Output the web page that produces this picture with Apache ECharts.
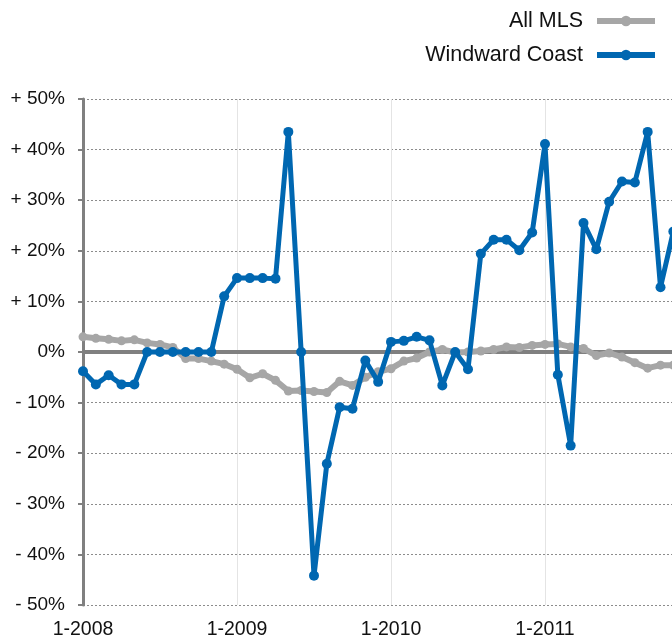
<!DOCTYPE html>
<html>
<head>
<meta charset="utf-8">
<script src="https://cdn.jsdelivr.net/npm/echarts@6/dist/echarts.min.js"></script>
<style>
html,body{margin:0;padding:0;background:#fff;}
#chart{width:672px;height:637px;}
</style>
</head>
<body>
<div id="chart"></div>
<script>
// Months Jan 2008 .. Jan 2012 (axis categories)
const years = [2008, 2009, 2010, 2011, 2012];
const categories = [];
years.forEach(function (y) {
  for (let m = 1; m <= 12; m++) {
    if (y === 2012 && m > 1) break;
    categories.push(m + '-' + y);
  }
});

const seriesNames = ['All MLS', 'Windward Coast'];

// All MLS, % change, Jan 2008 .. Nov 2011
const allMLS = [
  3.0, 2.7, 2.5, 2.2, 2.4, 1.8, 1.5, 0.9, -1.3, -1.3, -1.8, -2.4,
  -3.4, -5.1, -4.3, -5.6, -7.7, -7.6, -7.8, -8.0, -5.8, -6.6, -5.0, -3.9,
  -3.3, -1.8, -1.2, 0.0, 0.5, -0.1, 0.0, 0.2, 0.5, 1.0, 0.9, 1.3,
  1.5, 1.6, 1.0, 0.7, -0.7, -0.2, -1.0, -2.1, -3.2, -2.6, -2.6
];

// Windward Coast, % change, Jan 2008 .. Nov 2011
const windward = [
  -3.8, -6.4, -4.6, -6.4, -6.4, 0, 0, 0, 0, 0, 0, 11.0,
  14.6, 14.6, 14.6, 14.5, 43.5, 0, -44.2, -22.1, -10.9, -11.2, -1.7, -5.9,
  2.0, 2.2, 3.0, 2.3, -6.6, 0.0, -3.4, 19.4, 22.2, 22.2, 20.1, 23.6,
  41.1, -4.5, -18.5, 25.5, 20.3, 29.7, 33.7, 33.5, 43.5, 12.8, 23.8
];

const yTicks = [-50, -40, -30, -20, -10, 0, 10, 20, 30, 40, 50];

const FONT = '"Liberation Sans", Arial, Helvetica, sans-serif';
const BLUE = '#0067b1';
const GRAY = '#a6a6a6';

const chart = echarts.init(document.getElementById('chart'), null, {renderer: 'canvas'});
chart.setOption({
  animation: false,
  backgroundColor: '#ffffff',
  textStyle: {fontFamily: FONT},
  legend: {
    orient: 'vertical',
    right: 9,
    top: 5,
    align: 'right',
    itemWidth: 58,
    itemHeight: 13,
    itemGap: 12,
    lineStyle: {width: 6},
    textStyle: {fontFamily: FONT, fontSize: 21.5, color: '#111', padding: [0, 9, 0, 0]},
    data: seriesNames
  },
  grid: {left: 83, top: 99, width: 616, height: 506, containLabel: false, outerBoundsMode: 'none'},
  xAxis: {
    type: 'category',
    data: categories,
    boundaryGap: false,
    axisLine: {show: false},
    axisTick: {show: false},
    axisLabel: {
      interval: function (i) { return i % 12 === 0 && i < 48; },
      margin: 15,
      fontFamily: FONT,
      fontSize: 19.5,
      color: '#111'
    },
    splitLine: {
      show: true,
      interval: function (i) { return i % 12 === 0; },
      lineStyle: {color: '#e4e4e4', width: 1}
    }
  },
  yAxis: {
    type: 'value',
    min: yTicks[0],
    max: yTicks[yTicks.length - 1],
    interval: 10,
    axisLine: {show: true, lineStyle: {color: '#808080', width: 3}},
    axisTick: {show: true, length: 5, lineStyle: {color: '#808080', width: 2}},
    axisLabel: {
      margin: 18,
      fontFamily: FONT,
      fontSize: 19,
      color: '#111',
      formatter: function (v) {
        if (v > 0) return '+ ' + v + '%';
        if (v < 0) return '- ' + (-v) + '%';
        return '0%';
      }
    },
    splitLine: {lineStyle: {color: '#8c8c8c', width: 1, type: [2, 2]}}
  },
  series: [
    {
      name: seriesNames[0],
      type: 'line',
      data: allMLS,
      color: GRAY,
      symbol: 'circle',
      symbolSize: 9,
      showSymbol: true,
      showAllSymbol: true,
      lineStyle: {width: 6, color: GRAY},
      itemStyle: {color: GRAY},
      z: 2,
      markLine: {
        silent: true,
        symbol: 'none',
        label: {show: false},
        lineStyle: {color: '#808080', width: 4, type: 'solid'},
        data: [{yAxis: 0}],
        z: 1
      }
    },
    {
      name: seriesNames[1],
      type: 'line',
      data: windward,
      color: BLUE,
      symbol: 'circle',
      symbolSize: 10,
      showSymbol: true,
      showAllSymbol: true,
      lineStyle: {width: 5, color: BLUE},
      itemStyle: {color: BLUE},
      z: 3
    }
  ]
});
</script>
</body>
</html>
